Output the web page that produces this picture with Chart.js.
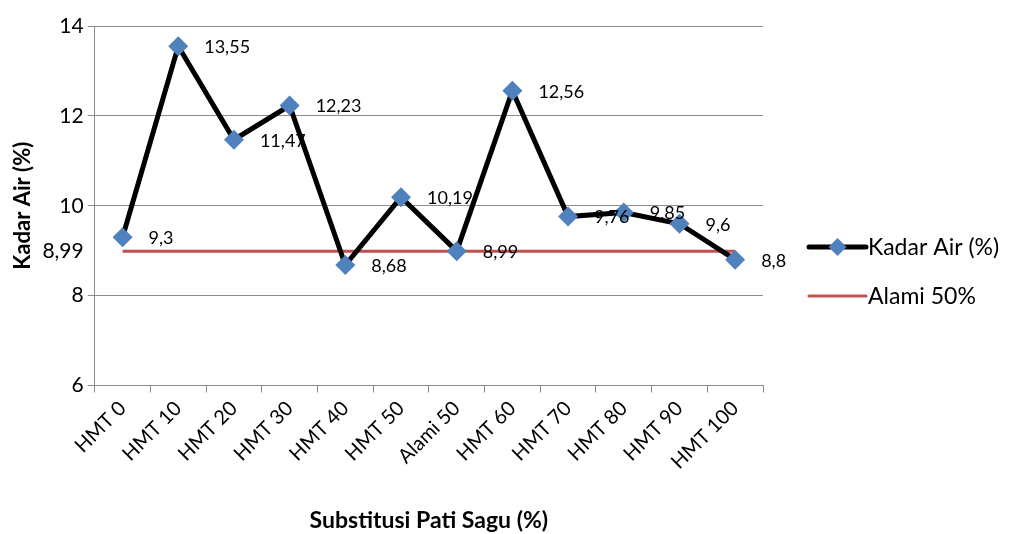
<!DOCTYPE html>
<html>
<head>
<meta charset="utf-8">
<script src="https://cdn.jsdelivr.net/npm/chart.js@4"></script>
<style>
  html, body { margin: 0; padding: 0; background: #fff; }
  #wrap { width: 1011px; height: 534px; position: relative; }
</style>
</head>
<body>
<div id="wrap"><canvas id="chart"></canvas></div>
<script>
// Data
const categories = ['HMT 0', 'HMT 10', 'HMT 20', 'HMT 30', 'HMT 40', 'HMT 50',
    'Alami 50', 'HMT 60', 'HMT 70', 'HMT 80', 'HMT 90', 'HMT 100'];
const kadarAir = [9.3, 13.55, 11.47, 12.23, 8.68, 10.19, 8.99, 12.56, 9.76, 9.85, 9.6, 8.8];
const alami50 = [8.99, 8.99, 8.99, 8.99, 8.99, 8.99, 8.99, 8.99, 8.99, 8.99, 8.99, 8.99];
const yTicks = [6, 8, 8.99, 10, 12, 14];

const FONT = 'Lato, "Open Sans", sans-serif';
const GRID = '#8c8c8c';
const fmt = v => String(v).replace('.', ',');

// data labels to the right of each marker
const pointLabels = {
    id: 'pointLabels',
    afterDatasetsDraw(chart) {
        const ctx = chart.ctx;
        const meta = chart.getDatasetMeta(0);
        ctx.save();
        ctx.font = '18px ' + FONT;
        ctx.fillStyle = '#000';
        ctx.textAlign = 'left';
        ctx.textBaseline = 'middle';
        meta.data.forEach((pt, i) => {
            ctx.fillText(fmt(kadarAir[i]), pt.x + 26, pt.y + 1);
        });
        ctx.restore();
    }
};

// legend on the right: line with diamond, plain red line
const sideLegend = {
    id: 'sideLegend',
    afterDraw(chart) {
        const ctx = chart.ctx;
        const x0 = 809, x1 = 866;
        const rows = [
            { y: 247, label: 'Kadar Air (%)', color: '#000', width: 5, marker: true },
            { y: 296, label: 'Alami 50%', color: '#C0504D', width: 3, marker: false }
        ];
        ctx.save();
        rows.forEach(r => {
            ctx.strokeStyle = r.color;
            ctx.lineWidth = r.width;
            ctx.lineCap = 'round';
            ctx.beginPath();
            ctx.moveTo(x0, r.y);
            ctx.lineTo(x1, r.y);
            ctx.stroke();
            if (r.marker) {
                const cx = (x0 + x1) / 2, s = 9;
                ctx.fillStyle = '#4F81BD';
                ctx.beginPath();
                ctx.moveTo(cx, r.y - s);
                ctx.lineTo(cx + s, r.y);
                ctx.lineTo(cx, r.y + s);
                ctx.lineTo(cx - s, r.y);
                ctx.closePath();
                ctx.fill();
            }
            ctx.fillStyle = '#000';
            ctx.font = '23px ' + FONT;
            ctx.textAlign = 'left';
            ctx.textBaseline = 'middle';
            ctx.fillText(r.label, x1 + 2, r.y + 1);
        });
        ctx.restore();
    }
};

new Chart(document.getElementById('chart'), {
    type: 'line',
    data: {
        labels: categories,
        datasets: [
            {
                label: 'Kadar Air (%)',
                data: kadarAir,
                borderColor: '#000',
                borderWidth: 5,
                pointStyle: 'rectRot',
                pointRadius: 10,
                pointHoverRadius: 10,
                pointBackgroundColor: '#4F81BD',
                pointBorderColor: '#4F81BD',
                pointBorderWidth: 0,
                tension: 0,
                order: 0
            },
            {
                label: 'Alami 50%',
                data: alami50,
                borderColor: '#C0504D',
                borderWidth: 3,
                pointRadius: 0,
                tension: 0,
                order: 1
            }
        ]
    },
    options: {
        responsive: true,
        maintainAspectRatio: false,
        animation: false,
        layout: { padding: { left: 6, right: 248, top: 26, bottom: -2 } },
        plugins: {
            legend: { display: false },
            tooltip: { enabled: false }
        },
        scales: {
            x: {
                offset: true,
                grid: { offset: true, drawOnChartArea: false, color: GRID, tickLength: 7 },
                border: { color: GRID },
                ticks: {
                    color: '#000',
                    font: { family: FONT, size: 20 },
                    maxRotation: 45,
                    minRotation: 45,
                    padding: 4
                },
                title: {
                    display: true,
                    text: 'Substitusi Pati Sagu (%)',
                    color: '#000',
                    font: { family: FONT, size: 23, weight: 'bold', lineHeight: 1 },
                    padding: { top: 31 }
                }
            },
            y: {
                min: 6,
                max: 14,
                afterBuildTicks: axis => {
                    axis.ticks = yTicks.map(v => ({ value: v }));
                },
                grid: {
                    color: ctx => (ctx.tick && ctx.tick.value === 8.99) ? 'rgba(0,0,0,0)' : GRID,
                    tickLength: 7
                },
                border: { color: GRID },
                ticks: {
                    color: '#000',
                    font: { family: FONT, size: 21 },
                    padding: 4,
                    callback: v => fmt(v)
                },
                title: {
                    display: true,
                    text: 'Kadar Air (%)',
                    color: '#000',
                    font: { family: FONT, size: 22, weight: 'bold' },
                    padding: { bottom: 2 }
                }
            }
        }
    },
    plugins: [pointLabels, sideLegend]
});
</script>
</body>
</html>
